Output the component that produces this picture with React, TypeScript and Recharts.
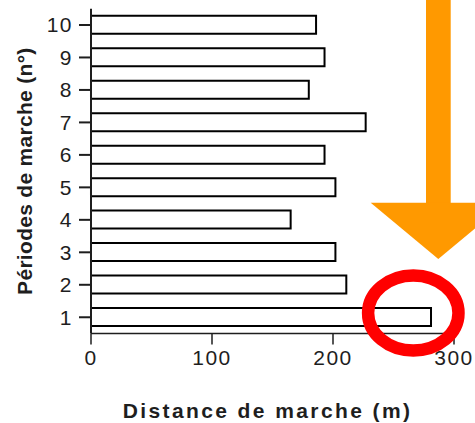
import React from "react";
import { Bar, BarChart, Label, XAxis, YAxis } from "recharts";

// walking periods (n°), bottom to top
const periods = ["1", "2", "3", "4", "5", "6", "7", "8", "9", "10"];
// walking distance (m) per period
const distances = [281, 211, 202, 165, 202, 193, 227, 180, 193, 186];
const xTicks = [0, 100, 200, 300];

const xTitle = "Distance de marche (m)";
const yTitle = "Périodes de marche (n°)";

const data = periods.map((p, i) => ({ period: p, distance: distances[i] }));

const FONT = '"Liberation Sans", Arial, sans-serif';
const INK = "#1e1e1e";

const XTick = ({ x, y, payload }: any) => (
  <text x={x} y={y} dy="0.71em" textAnchor="middle" fontFamily={FONT} fontSize={21} letterSpacing={1.5} fill={INK}>
    {payload.value}
  </text>
);

const YTick = ({ x, y, payload }: any) => (
  <text x={x} y={y} dy="0.355em" textAnchor="end" fontFamily={FONT} fontSize={21} letterSpacing={1.5} fill={INK}>
    {payload.value}
  </text>
);

export default function App() {
  return (
    <div style={{ position: "absolute", left: 0, top: 0, width: 475, height: 423, background: "#fff" }}>
      <BarChart
        width={475}
        height={423}
        data={data}
        layout="vertical"
        margin={{ top: 8.75, right: 21, bottom: 0, left: 11 }}
      >
        <XAxis
          type="number"
          dataKey="distance"
          domain={[0, 300]}
          ticks={xTicks}
          height={89.5}
          tickSize={11}
          tickMargin={6}
          stroke={INK}
          strokeWidth={1.5}
          tick={<XTick />}
        >
          <Label
            content={({ viewBox }: any) => (
              <text
                x={viewBox.x + viewBox.width / 2 - 5}
                y={viewBox.y + 84.5}
                textAnchor="middle"
                fontFamily={FONT}
                fontSize={21}
                fontWeight="bold"
                letterSpacing={2.4}
                fill={INK}
              >
                {xTitle}
              </text>
            )}
          />
        </XAxis>
        <YAxis
          type="category"
          dataKey="period"
          reversed
          width={80}
          tickSize={12}
          tickMargin={6}
          stroke={INK}
          strokeWidth={2}
          tick={<YTick />}
        >
          <Label
            content={({ viewBox }: any) => {
              const x = viewBox.x + 20.5;
              const y = viewBox.y + viewBox.height / 2;
              return (
                <text
                  x={x}
                  y={y}
                  transform={`rotate(-90 ${x} ${y})`}
                  textAnchor="middle"
                  fontFamily={FONT}
                  fontSize={21}
                  fontWeight="bold"
                  letterSpacing={0.3}
                  fill={INK}
                >
                  {yTitle}
                </text>
              );
            }}
          />
        </YAxis>
        <Bar dataKey="distance" fill="#fff" stroke="#000" strokeWidth={2} barSize={18} isAnimationActive={false} />
      </BarChart>
      {/* annotation drawn over the chart */}
      <svg width={475} height={423} style={{ position: "absolute", left: 0, top: 0, pointerEvents: "none" }}>
        <rect x={426} y={0} width={24.7} height={204} fill="#ff9900" />
        <polygon points="370.7,202.7 506,202.7 438.3,259" fill="#ff9900" />
        <ellipse cx={413.3} cy={313} rx={45.2} ry={37.5} fill="none" stroke="#ff0000" strokeWidth={12.5} />
      </svg>
    </div>
  );
}
